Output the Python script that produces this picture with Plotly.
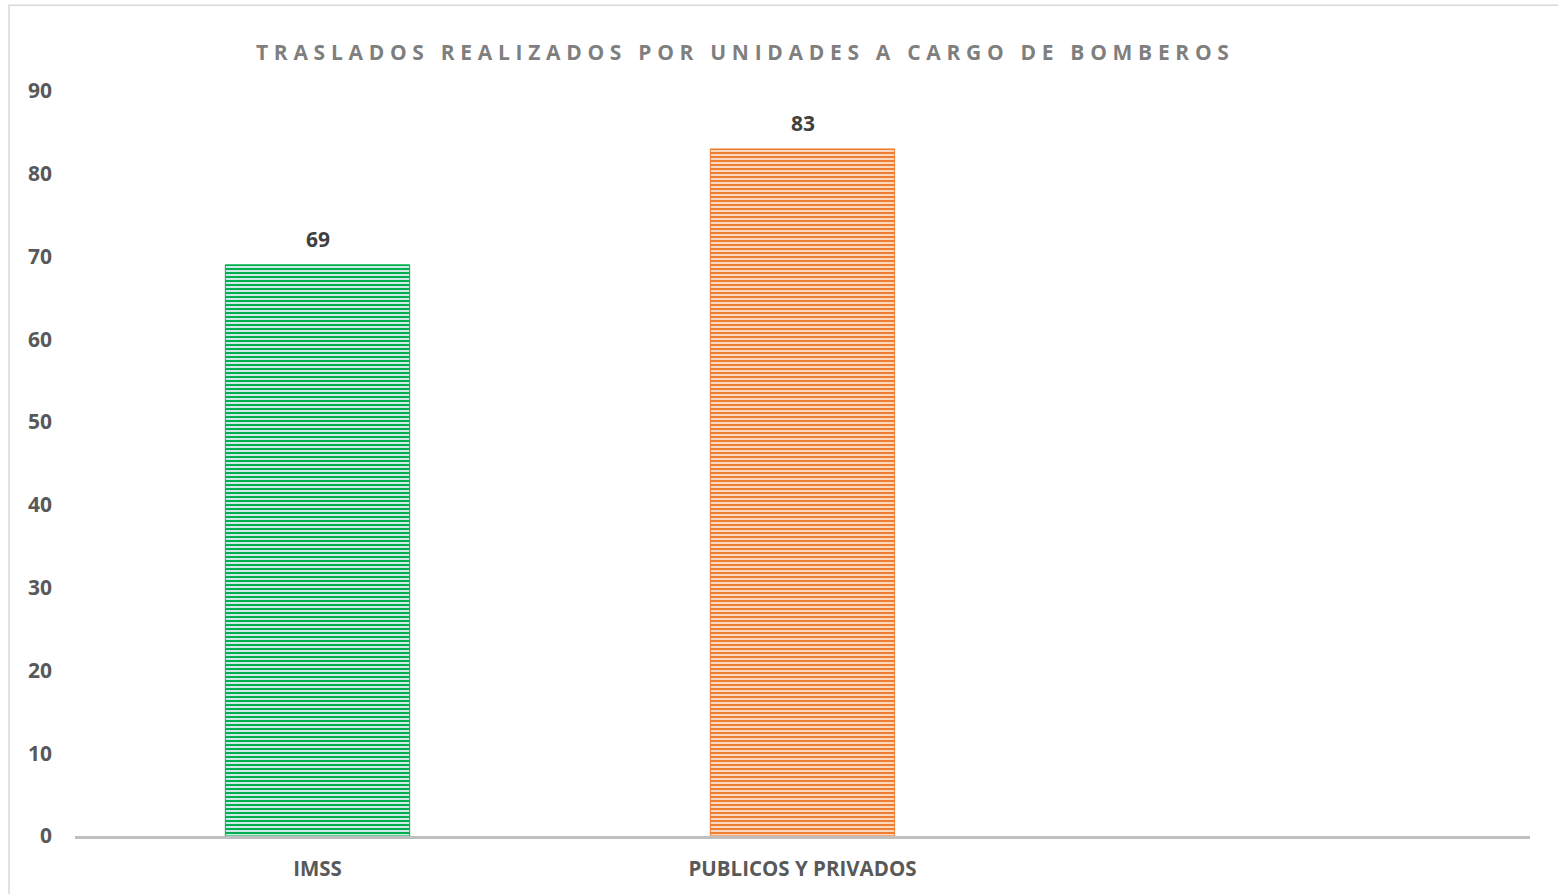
import plotly.graph_objects as go

categories = ["IMSS", "PUBLICOS Y PRIVADOS"]
values = [69, 83]
fg_colors = ["#00B050", "#ED7D31"]
bg_colors = ["#E6F1F6", "#FBE2CF"]
y_ticks = [0, 10, 20, 30, 40, 50, 60, 70, 80, 90]
title_text = "TRASLADOS REALIZADOS POR UNIDADES A CARGO DE BOMBEROS"

fig = go.Figure()
for c, v, fg, bg in zip(categories, values, fg_colors, bg_colors):
    fig.add_trace(go.Bar(
        x=[c],
        y=[v],
        width=0.38,
        marker=dict(
            color=bg,
            line=dict(color=fg, width=1),
            pattern=dict(shape="-", fgcolor=fg, bgcolor=bg,
                         size=4, solidity=0.55, fillmode="replace"),
        ),
        hoverinfo="skip",
    ))
    fig.add_annotation(x=c, y=v, text=f"<b>{v}</b>", showarrow=False,
                       yshift=26, font=dict(family="Open Sans", size=21, color="#404040"))

fig.add_annotation(
    xref="paper", yref="paper", x=(745 - 75) / 1455, y=1.0, yshift=39,
    text=f'<span style="letter-spacing:5.7px"><b>{title_text}</b></span>',
    showarrow=False, font=dict(family="Open Sans", size=21, color="#7F7F7F"),
    yanchor="middle", xanchor="center",
)

fig.add_shape(type="rect", xref="paper", yref="paper",
              x0=(9 - 75) / 1455, x1=1.2, y0=-0.3, y1=(838 - 5) / 747,
              line=dict(color="#D9D9D9", width=1.5), fillcolor="rgba(0,0,0,0)", layer="below")

fig.update_layout(
    width=1558, height=894,
    margin=dict(l=75, r=28, t=91, b=56),
    paper_bgcolor="white", plot_bgcolor="white",
    showlegend=False, barmode="overlay",
    font=dict(family="Open Sans", color="#595959"),
)
fig.update_xaxes(
    type="category", range=[-0.5, 2.5],
    showline=True, linecolor="#BFBFBF", linewidth=3,
    showgrid=False, zeroline=False, ticks="",
    tickfont=dict(family="Open Sans", size=20.5, color="#595959", weight="bold"),
    ticklabelstandoff=12,
)
fig.update_yaxes(
    range=[0, 90], tickvals=y_ticks, showgrid=False, zeroline=False, showline=False,
    tickfont=dict(family="Open Sans", size=21, color="#595959", weight="bold"),
    ticklabelstandoff=22,
)

fig.write_html("out.html",
               config={"displayModeBar": False},
               post_script="document.body.style.margin='0';document.body.style.overflow='hidden';")
